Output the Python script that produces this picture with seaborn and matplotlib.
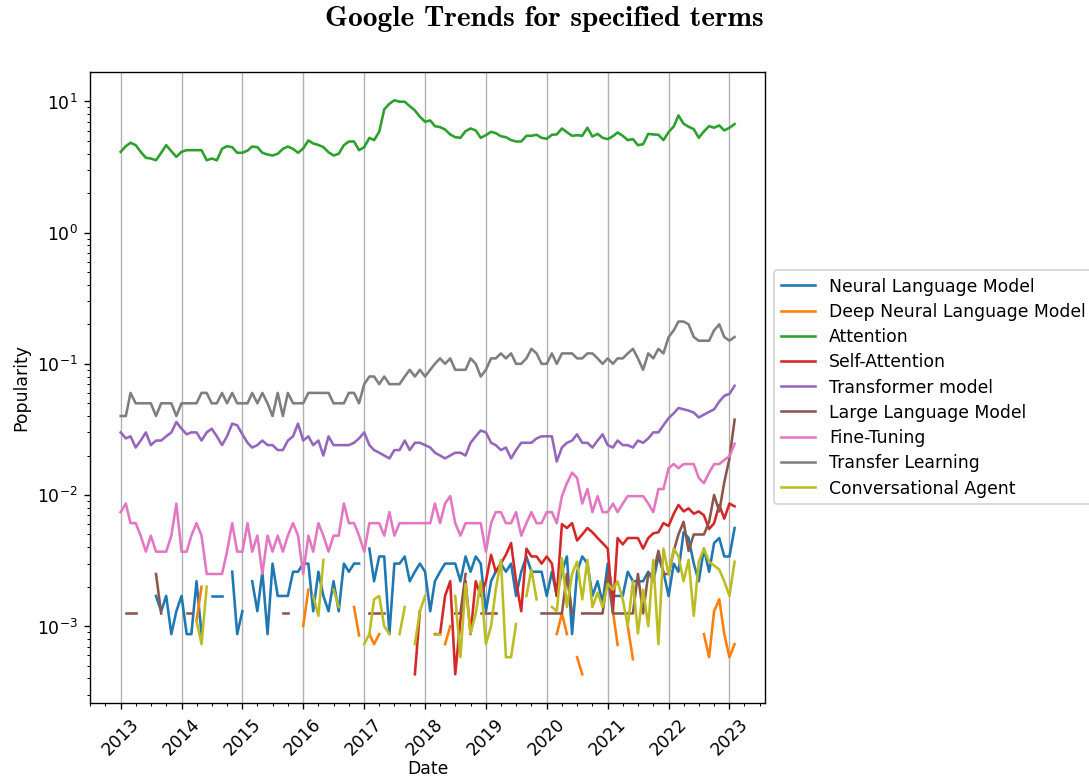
import numpy as np
import pandas as pd
import seaborn as sns
import matplotlib.pyplot as plt
import matplotlib.dates as mdates

n = np.nan  # month without data (gap in the line)

dates = pd.date_range("2013-01-01", periods=122, freq="MS")

terms = ["Neural Language Model", "Deep Neural Language Model", "Attention",
         "Self-Attention", "Transformer model", "Large Language Model",
         "Fine-Tuning", "Transfer Learning", "Conversational Agent"]

# one row per year, 2013 .. 2022, then Jan/Feb 2023
neural_lm = [
    n, n, n, n, n, n, n, .0017, .0013, .0017, .00087, .0013,
    .0017, .00087, .00087, .0022, .00087, n, .0017, .0017, .0017, n, .0026, .00087,
    .0013, n, .0022, .0013, .0026, .00087, .003, .0017, .0017, .0017, .0026, .0026,
    .003, .003, .0013, .0026, .0017, .0013, .0022, .0013, .003, .0026, .003, .003,
    n, .0039, .0022, .0034, .0034, .00087, .003, .003, .0034, .0022, .0026, .003,
    .0026, .0013, .0022, .0026, .003, .003, .003, .0022, .0034, .0026, .0034, .003,
    .0013, .0022, .0026, .003, .0026, .003, .0017, .0026, .0034, .0026, .0026, .0026,
    .0017, .0026, .0017, .0026, .0034, .00087, .0026, .0034, .003, .0017, .0022, .0015,
    .003, .0017, .0017, .0017, .0026, .0022, .0022, .0022, .0026, .0022, .0034, .0026,
    .0017, .003, .0026, .0052, .0047, .003, .0022, .0039, .0026, .0043, .0047, .0034,
    .0034, .0056]

deep_nlm = [
    n, n, n, n, n, n, n, n, n, n, n, n,
    n, n, n, .0011, .002, n, n, n, n, n, n, n,
    n, n, n, n, n, n, n, n, n, n, n, n,
    .001, .0019, n, n, n, n, n, n, n, n, .0014, .00085,
    n, .00087, .00073, .00087, n, n, n, n, n, n, n, n,
    n, n, n, n, .00073, .001, n, n, n, n, n, n,
    n, n, n, n, n, n, n, n, n, n, n, n,
    n, n, .00087, .00125, .00087, n, .00058, .00043, n, n, n, n,
    n, .0013, .00072, n, .001, .00056, n, n, n, n, n, n,
    n, n, n, n, n, n, n, .00087, .00058, .0013, .0016, .00087,
    .00058, .00073]

attention = [
    4.13, 4.56, 4.84, 4.64, 4.13, 3.72, 3.67, 3.56, 4.06, 4.64, 4.17, 3.78,
    4.13, 4.25, 4.25, 4.25, 4.25, 3.56, 3.67, 3.56, 4.35, 4.56, 4.48, 4.06,
    4.06, 4.22, 4.53, 4.48, 4.06, 3.94, 3.87, 3.99, 4.35, 4.53, 4.35, 4.06,
    4.38, 5.04, 4.78, 4.66, 4.48, 4.10, 3.87, 3.99, 4.64, 4.95, 4.95, 4.25,
    4.48, 5.28, 5.07, 5.87, 8.69, 9.6, 10.2, 9.95, 9.95, 9.2, 8.54, 7.64,
    7.0, 7.16, 6.48, 6.37, 6.11, 5.60, 5.34, 5.28, 5.94, 6.22, 6.01, 5.28,
    5.53, 5.87, 5.73, 5.43, 5.34, 5.07, 4.95, 4.95, 5.47, 5.47, 5.57, 5.28,
    5.19, 5.57, 5.60, 6.22, 5.83, 5.47, 5.53, 5.47, 6.30, 5.40, 5.66, 5.28,
    5.16, 5.43, 5.80, 5.47, 5.07, 5.16, 4.64, 4.72, 5.66, 5.60, 5.57, 5.07,
    5.83, 6.45, 7.82, 6.76, 6.41, 6.15, 5.28, 5.91, 6.48, 6.30, 6.56, 6.01,
    6.30, 6.72]

self_attention = [
    n, n, n, n, n, n, n, n, n, n, n, n,
    n, n, n, n, n, n, n, n, n, n, n, n,
    n, n, n, n, n, n, n, n, n, n, n, n,
    n, n, n, n, n, n, n, n, n, n, n, n,
    n, n, n, n, n, n, n, n, n, n, .00043, .0013,
    n, n, .00087, .00087, .0017, .0022, .00043, .0011, .0022, .00087, .0022, .0017,
    .0022, .0035, .0026, .003, .0035, .0043, .0022, .0013, .0039, .0034, .0034, .003,
    .0034, .003, .0017, .006, .0056, .0061, .0045, .005, .0056, .0052, .0047, .0043,
    .0039, .0013, .0047, .0042, .0047, .0047, .0047, .0039, .0047, .0051, .0052, .0061,
    .0058, .0072, .0084, .0075, .0079, .0072, .0075, .0070, .0055, .0061, .0084, .0066,
    .0086, .0082]

transformer = [
    .030, .027, .028, .023, .026, .030, .024, .026, .026, .028, .030, .036,
    .032, .029, .030, .030, .026, .030, .032, .028, .024, .028, .035, .034,
    .029, .025, .023, .024, .026, .024, .024, .022, .022, .026, .028, .035,
    .026, .028, .024, .026, .020, .028, .024, .024, .024, .024, .025, .027,
    .030, .024, .022, .021, .020, .019, .022, .022, .026, .022, .025, .025,
    .024, .023, .021, .020, .019, .020, .021, .021, .020, .025, .028, .031,
    .030, .025, .024, .022, .023, .019, .022, .025, .025, .025, .027, .028,
    .028, .028, .018, .023, .025, .026, .029, .025, .025, .023, .026, .029,
    .024, .023, .026, .024, .024, .023, .026, .025, .027, .030, .030, .034,
    .0385, .042, .046, .045, .044, .0425, .039, .041, .043, .045, .0515, .057,
    .059, .068]

llm = [
    n, .00125, .00125, .00125, n, n, n, .0025, .00125, n, n, n,
    n, .00125, .00125, n, n, n, n, n, n, n, n, n,
    n, n, n, n, n, n, n, n, .00125, .00125, n, n,
    n, n, n, n, n, n, n, n, n, n, n, n,
    n, .00125, .00125, .00125, .00125, n, n, n, n, n, n, n,
    n, n, n, n, n, n, .00125, .00125, .0025, n, n, .00125,
    .00125, .00125, .00125, n, n, n, n, n, n, n, n, .00125,
    .00125, .00125, .00125, .00125, .0025, .00125, n, .00125, .00125, .00125, .00125, .00125,
    .0025, .00125, .00125, .00125, .00125, .00125, .0025, .00125, .0025, .0025, .00375, .0025,
    .0025, .00375, .005, .00625, .00375, .005, .005, .005, .00625, .01, .0075, .0125,
    .019, .0375]

fine_tuning = [
    .0074, .0086, .0061, .0061, .0049, .0037, .0049, .0037, .0037, .0037, .0049, .0086,
    .0037, .0037, .0049, .0061, .0049, .0025, .0025, .0025, .0025, .0037, .0061, .0037,
    .0037, .0061, .0037, .0049, .0025, .0049, .0037, .0049, .0037, .0049, .0061, .0049,
    .0025, .0049, .0037, .0061, .0049, .0037, .0049, .0049, .0086, .0061, .0061, .0049,
    .0037, .0061, .0061, .0061, .0049, .0074, .0049, .0061, .0061, .0061, .0061, .0061,
    .0061, .0061, .0086, .0061, .0086, .0098, .0061, .0049, .0061, .0061, .0061, .0061,
    .0037, .0061, .0074, .0074, .0061, .0061, .0074, .0049, .0061, .0074, .0061, .0061,
    .0074, .0074, .0061, .0098, .0123, .0148, .0135, .0086, .0111, .0074, .0098, .0074,
    .0074, .0086, .0074, .0086, .0098, .0098, .0098, .0098, .0086, .0074, .0111, .0111,
    .016, .0172, .016, .0172, .0172, .0172, .0135, .0123, .0148, .0172, .0172, .0185,
    .0197, .0246]

transfer = [
    .04, .04, .06, .05, .05, .05, .05, .04, .05, .05, .05, .04,
    .05, .05, .05, .05, .06, .06, .05, .05, .06, .05, .06, .05,
    .05, .05, .06, .05, .06, .05, .04, .06, .04, .06, .05, .05,
    .05, .06, .06, .06, .06, .06, .05, .05, .05, .06, .06, .05,
    .07, .08, .08, .07, .08, .07, .07, .07, .08, .09, .08, .09,
    .08, .09, .10, .11, .10, .11, .09, .09, .09, .11, .10, .08,
    .09, .11, .11, .12, .11, .12, .10, .10, .11, .13, .12, .10,
    .10, .12, .10, .12, .12, .12, .11, .11, .12, .12, .11, .10,
    .11, .10, .11, .11, .12, .13, .11, .09, .12, .11, .13, .12,
    .16, .18, .21, .21, .20, .16, .15, .15, .15, .18, .20, .16,
    .15, .16]

conv_agent = [
    n, n, n, n, n, n, n, n, n, n, n, n,
    n, n, n, .0011, .00073, .002, n, n, n, n, n, n,
    n, n, n, n, n, n, n, n, n, n, n, n,
    n, n, .0017, .0012, .0032, n, .0019, .0014, n, n, n, n,
    .00073, .00087, .0016, .0017, .001, .00087, n, .00087, .0014, n, .00073, .0013,
    .0017, n, .00087, .00087, n, n, .0017, .00058, .0021, .00088, .00125, .0022,
    .00073, .001, .0019, .0032, .00058, .00058, .00104, n, .0017, .0027, .0016, n,
    n, .0014, .0013, .0033, .0014, .0025, .0031, .0016, .0032, .0014, .0018, .0014,
    .0021, .0019, .0022, .0016, .001, .0022, .00088, .0019, .001, .0032, .00073, .0039,
    .0025, .0039, .0034, .0022, .0032, .0012, .0031, .0039, .0031, .0029, .0027, .0022,
    .0017, .0031]

series = [neural_lm, deep_nlm, attention, self_attention, transformer,
          llm, fine_tuning, transfer, conv_agent]

# long table; "seg" breaks each line where a month is missing
rows = []
for term, vals in zip(terms, series):
    vals = np.array(vals, dtype=float)
    assert len(vals) == len(dates), term
    seg = np.cumsum(np.isnan(vals))
    for d, v, s in zip(dates, vals, seg):
        if not np.isnan(v):
            rows.append({"Date": d, "Popularity": v, "Term": term, "seg": f"{term}-{s}"})
df = pd.DataFrame(rows)

fig, ax = plt.subplots(figsize=(1089.4 / 124, 778.4 / 124), dpi=124)
fig.subplots_adjust(left=0.0826, right=0.7025, bottom=0.0964, top=0.9075)

sns.lineplot(data=df, x="Date", y="Popularity", hue="Term", hue_order=terms,
             units="seg", estimator=None, palette="tab10", linewidth=1.5, ax=ax)
ax.set_yscale("log")

ax.xaxis.set_major_locator(mdates.YearLocator())
ax.xaxis.set_major_formatter(mdates.DateFormatter("%Y"))
ax.xaxis.set_minor_locator(mdates.MonthLocator(bymonth=[4, 7, 10]))
plt.setp(ax.get_xticklabels(), rotation=45)
ax.xaxis.labelpad = 0.5
ax.grid(axis="x", which="major")

sns.move_legend(ax, "center left", bbox_to_anchor=(1.0, 0.5), title=None,
                labelspacing=0.42)

fig.suptitle("Google Trends for specified terms", fontfamily="cmb10",
             fontsize=17, y=0.975, va="center")

fig.savefig("out.png", dpi=124)
